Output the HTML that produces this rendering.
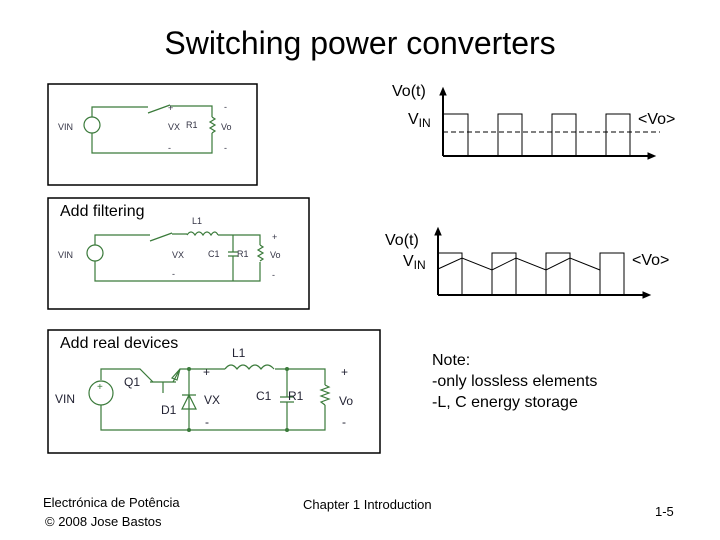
<!DOCTYPE html>
<html><head><meta charset="utf-8"><style>
html,body{margin:0;padding:0;background:#fff;}
svg{display:block;font-family:"Liberation Sans",sans-serif;}
</style></head><body>
<svg width="720" height="540" viewBox="0 0 720 540" xmlns="http://www.w3.org/2000/svg">
<rect width="720" height="540" fill="#fff"/>
<text x="360" y="54" font-size="32" text-anchor="middle">Switching power converters</text>

<!-- Box 1 -->
<rect x="48" y="84" width="209" height="101" fill="none" stroke="#000" stroke-width="1.5"/>
<g stroke="#3a7a3a" stroke-width="1.2" fill="none">
<path d="M92 117 V107 H148 M170 106 H212 V117 M212 133 V153 H92 V133"/>
<path d="M148 113 L170 105"/>
<circle cx="92" cy="125" r="8"/>
<path d="M212 117 l3 2 l-5 3 l5 3 l-5 3 l5 3 l-3 2"/>
</g>
<g font-size="9" fill="#334">
<text x="58" y="130">VIN</text><text x="168" y="130">VX</text><text x="186" y="128">R1</text><text x="221" y="130">Vo</text>
<text x="168" y="111">+</text><text x="224" y="110">-</text><text x="168" y="151">-</text><text x="224" y="151">-</text>
</g>

<!-- Box 2 -->
<rect x="48" y="198" width="261" height="111" fill="none" stroke="#000" stroke-width="1.5"/>
<text x="60" y="216" font-size="16">Add filtering</text>
<g stroke="#3a7a3a" stroke-width="1.2" fill="none">
<path d="M95 245 V235 H150 M172 234 H187 M218 235 H260 V245 M260 262 V281 H95 V261"/>
<path d="M150 241 L172 233"/>
<path d="M187 235 q4 -6 8 0 q4 -6 8 0 q4 -6 8 0 q4 -6 7 0"/>
<circle cx="95" cy="253" r="8"/>
<path d="M233 235 V252 M228 252 H238 M228 256 H238 M233 256 V281"/>
<path d="M260 245 l3 2 l-5 3 l5 3 l-5 3 l5 3 l-3 2"/>
</g>
<g font-size="9" fill="#334">
<text x="58" y="258">VIN</text><text x="172" y="258">VX</text><text x="208" y="257">C1</text><text x="237" y="257">R1</text><text x="270" y="258">Vo</text>
<text x="192" y="224">L1</text><text x="272" y="240">+</text><text x="172" y="277">-</text><text x="272" y="278">-</text>
</g>

<!-- Box 3 -->
<rect x="48" y="330" width="332" height="123" fill="none" stroke="#000" stroke-width="1.5"/>
<text x="60" y="348" font-size="16">Add real devices</text>
<g stroke="#3a7a3a" stroke-width="1.2" fill="none">
<path d="M101 380 V369 H140 L153 382 M173 382 L180 369 H225 M275 369 H325 V385 M325 405 V430 H101 V405"/>
<path d="M150 382 H176 M163 382 V393"/>
<path d="M172 378 L180 369 L177 380 Z"/>
<path d="M225 369 q6 -8 12 0 q6 -8 12 0 q6 -8 12 0 q6 -8 13 0"/>
<circle cx="101" cy="393" r="12"/>
<path d="M189 369 V430 M182 409 L196 409 L189 395 Z M182 395 H196"/>
<path d="M287 369 V397 M280 397 H294 M280 402 H294 M287 402 V430"/>
<path d="M325 385 l4 2 l-8 3 l8 3 l-8 3 l8 3 l-8 3 l4 3"/>
</g>
<g fill="#3a7a3a"><circle cx="189" cy="369" r="2"/><circle cx="287" cy="369" r="2"/><circle cx="189" cy="430" r="2"/><circle cx="287" cy="430" r="2"/></g>
<text x="97" y="390" font-size="10" fill="#3a7a3a">+</text>
<g font-size="12" fill="#223">
<text x="55" y="403">VIN</text><text x="124" y="386">Q1</text><text x="161" y="414">D1</text><text x="204" y="404">VX</text>
<text x="256" y="400">C1</text><text x="288" y="400">R1</text><text x="339" y="405">Vo</text><text x="232" y="357">L1</text>
<text x="203" y="376">+</text><text x="205" y="426">-</text><text x="341" y="376">+</text><text x="342" y="426">-</text>
</g>

<!-- Waveform 1 -->
<text x="392" y="96" font-size="16">Vo(t)</text>
<text x="408" y="124" font-size="16">V<tspan font-size="12" dy="3">IN</tspan></text>
<text x="638" y="124" font-size="16">&lt;Vo&gt;</text>
<g stroke="#000" fill="none">
<path d="M443 156 V93" stroke-width="2"/><path d="M440 95 L443 88 L446 95 Z" fill="#000"/>
<path d="M443 156 H650" stroke-width="2"/><path d="M648 153 L655 156 L648 159 Z" fill="#000"/>
<path d="M443 114 H468 V156 M498 156 V114 H522 V156 M552 156 V114 H576 V156 M606 156 V114 H630 V156" stroke-width="1"/>
<path d="M443 132 H660" stroke-width="1" stroke-dasharray="5,3"/>
</g>

<!-- Waveform 2 -->
<text x="385" y="245" font-size="16">Vo(t)</text>
<text x="403" y="266" font-size="16">V<tspan font-size="12" dy="3">IN</tspan></text>
<text x="632" y="265" font-size="16">&lt;Vo&gt;</text>
<g stroke="#000" fill="none">
<path d="M438 295 V233" stroke-width="2"/><path d="M435 235 L438 228 L441 235 Z" fill="#000"/>
<path d="M438 295 H645" stroke-width="2"/><path d="M643 292 L650 295 L643 298 Z" fill="#000"/>
<path d="M438 253 H462 V295 M492 295 V253 H516 V295 M546 295 V253 H570 V295 M600 295 V253 H624 V295" stroke-width="1"/>
<path d="M438 269 L462 258 L492 270 L516 258 L546 270 L570 258 L600 270" stroke-width="1"/>
</g>

<g font-size="16"><text x="432" y="365">Note:</text><text x="432" y="386">-only lossless elements</text><text x="432" y="407">-L, C energy storage</text></g>

<g font-size="13"><text x="43" y="507">Electrónica de Potência</text><text x="45" y="526">© 2008 Jose Bastos</text>
<text x="303" y="509">Chapter 1 Introduction</text><text x="655" y="516">1-5</text></g>
</svg>
</body></html>
